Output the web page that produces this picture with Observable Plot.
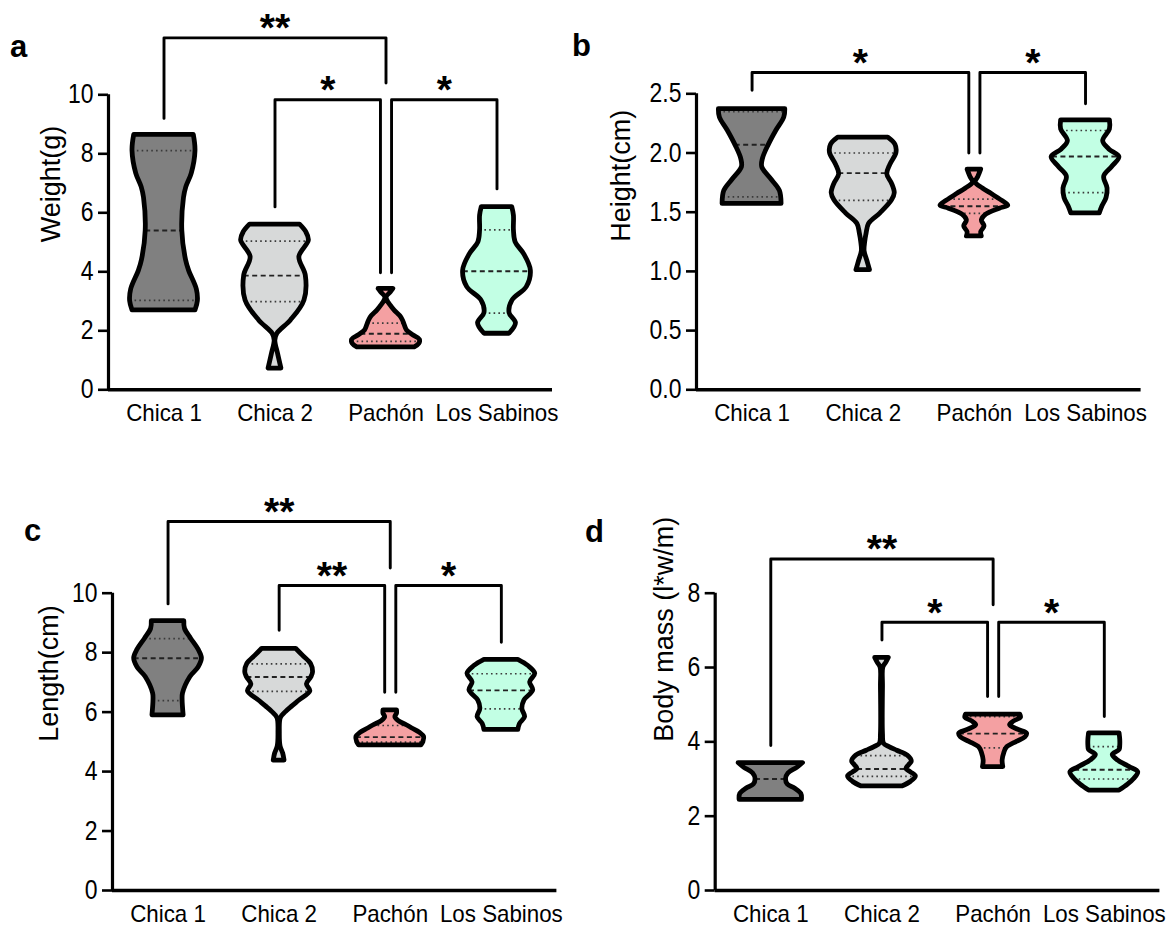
<!DOCTYPE html>
<html><head><meta charset="utf-8">
<script src="https://cdn.jsdelivr.net/npm/d3@7"></script>
<script src="https://cdn.jsdelivr.net/npm/@observablehq/plot@0.6"></script>
<style>
html,body{margin:0;padding:0;background:#fff;}
#fig{position:relative;width:1175px;height:928px;overflow:hidden;background:#fff;}
.panel{position:absolute;}
.letter{position:absolute;font-family:"Liberation Sans",Arial,sans-serif;font-weight:bold;font-size:31px;line-height:1;color:#000;}
</style></head><body><div id="fig"></div>
<script>
// ---------- data ----------
const categories = ["Chica 1", "Chica 2", "Pachón", "Los Sabinos"];
const palette = ["#808080", "#d7d9d9", "#f4a0a2", "#c2ffe4"];

// violin outlines: [value, relative half-width]
const weightShapes = [
  [[2.69,0.93],[3.0,1.0],[3.4,0.97],[4.04,0.74],[4.4,0.65],[5.4,0.54],[6.5,0.59],[6.87,0.66],[7.33,0.82],[8.1,0.93],[8.64,0.88]],
  [[0.72,0.19],[1.22,0.09],[1.67,0.01],[1.9,0.07],[2.35,0.47],[3.03,0.87],[3.87,0.91],[4.5,0.72],[5.06,1.0],[5.35,0.92],[5.6,0.74]],
  [[1.44,0.85],[1.55,0.98],[1.7,1.0],[1.85,0.8],[2.01,0.62],[2.2,0.55],[2.35,0.5],[2.5,0.42],[2.69,0.25],[2.85,0.14],[3.05,0.03],[3.14,0.02],[3.3,0.14],[3.42,0.22]],
  [[1.9,0.37],[2.26,0.56],[2.6,0.37],[3.03,0.46],[3.48,0.88],[4.04,1.0],[4.6,0.8],[5.0,0.55],[5.4,0.5],[5.9,0.5],[6.19,0.45]]
];
const weightQuartiles = [[3.03,5.40,8.11],[2.99,3.87,5.04],[1.64,1.90,2.26],[2.60,4.02,5.42]];
const weightBrackets = [
  {from:0,to:2,top:11.93,legFrom:9.2,legTo:10.4,label:"**"},
  {from:1,to:2,top:9.83,legFrom:6.2,legTo:3.97,label:"*"},
  {from:2,to:3,top:9.83,legFrom:3.97,legTo:6.81,label:"*"}
];

const heightShapes = [
  [[1.57,0.87],[1.68,0.82],[1.77,0.59],[1.88,0.3],[1.95,0.32],[2.06,0.48],[2.19,0.72],[2.30,0.95],[2.37,0.98]],
  [[1.01,0.2],[1.09,0.12],[1.17,0.04],[1.25,0.06],[1.32,0.1],[1.40,0.17],[1.49,0.51],[1.6,0.85],[1.66,0.93],[1.74,0.85],[1.82,0.71],[1.9,0.8],[2.0,0.98],[2.07,0.95],[2.13,0.74]],
  [[1.295,0.22],[1.33,0.2],[1.38,0.3],[1.43,0.22],[1.48,0.35],[1.53,0.75],[1.556,1.0],[1.6,0.8],[1.655,0.5],[1.7,0.25],[1.75,0.04],[1.8,0.12],[1.86,0.2]],
  [[1.49,0.42],[1.55,0.5],[1.62,0.62],[1.7,0.65],[1.8,0.55],[1.88,0.78],[1.965,1.0],[2.03,0.7],[2.1,0.52],[2.2,0.72],[2.275,0.72]]
];
const heightQuartiles = [[1.63,2.07,2.35],[1.60,1.83,2.00],[1.49,1.55,1.61],[1.665,1.97,2.19]];
const heightBrackets = [
  {from:0,to:2,top:2.68,legFrom:2.53,legTo:2.0,label:"*"},
  {from:2,to:3,top:2.68,legFrom:2.0,legTo:2.415,label:"*"}
];

const lengthShapes = [
  [[5.89,0.46],[6.4,0.43],[6.62,0.44],[7.18,0.66],[7.5,0.9],[7.81,1.0],[8.1,0.9],[8.47,0.68],[8.8,0.5],[9.06,0.48]],
  [[4.37,0.16],[4.6,0.12],[4.85,0.04],[5.3,0.02],[5.8,0.05],[6.0,0.2],[6.2,0.4],[6.39,0.6],[6.7,0.92],[6.93,0.82],[7.17,0.95],[7.34,1.0],[7.62,0.94],[7.9,0.7],[8.13,0.5]],
  [[4.88,0.92],[5.0,0.98],[5.16,1.0],[5.3,0.88],[5.45,0.65],[5.55,0.5],[5.7,0.25],[5.83,0.15],[5.95,0.2],[6.06,0.2]],
  [[5.4,0.5],[5.6,0.55],[5.83,0.7],[6.11,0.62],[6.39,0.68],[6.73,0.94],[7.0,0.85],[7.29,1.0],[7.55,0.8],[7.76,0.5]]
];
const lengthQuartiles = [[6.39,7.81,8.47],[6.70,7.18,7.62],[4.99,5.16,5.55],[6.11,6.73,7.29]];
const lengthBrackets = [
  {from:0,to:2,top:12.41,legFrom:9.64,legTo:10.85,label:"**"},
  {from:1,to:2,top:10.26,legFrom:8.75,legTo:6.67,label:"**"},
  {from:2,to:3,top:10.26,legFrom:6.67,legTo:8.35,label:"*"}
];

const massShapes = [
  [[2.44,0.92],[2.6,0.9],[2.74,0.72],[2.85,0.5],[3.0,0.45],[3.15,0.52],[3.3,0.78],[3.43,0.95]],
  [[2.8,0.6],[2.92,0.85],[3.07,1.0],[3.18,0.85],[3.27,0.72],[3.37,0.8],[3.47,0.88],[3.63,0.76],[3.76,0.45],[3.86,0.22],[3.95,0.06],[4.2,0.03],[5.5,0.03],[6.0,0.04],[6.12,0.12],[6.26,0.2]],
  [[3.32,0.3],[3.5,0.28],[3.7,0.33],[3.84,0.4],[4.0,0.7],[4.12,0.95],[4.22,1.0],[4.32,0.75],[4.45,0.5],[4.55,0.62],[4.65,0.82],[4.73,0.8]],
  [[2.69,0.45],[2.85,0.7],[3.0,0.88],[3.18,1.0],[3.32,0.75],[3.5,0.4],[3.65,0.25],[3.78,0.45],[3.9,0.47],[4.05,0.47],[4.23,0.45]]
];
const massQuartiles = [[2.46,3.00,3.41],[3.07,3.27,3.63],[3.84,4.22,4.68],[3.00,3.25,3.87]];
const massBrackets = [
  {from:0,to:2,top:8.92,legFrom:3.9,legTo:7.69,label:"**"},
  {from:1,to:2,top:7.22,legFrom:6.74,legTo:5.22,label:"*"},
  {from:2,to:3,top:7.22,legFrom:5.22,legTo:4.68,label:"*"}
];

const weightTicks = [0,2,4,6,8,10];
const heightTicks = [0,0.5,1.0,1.5,2.0,2.5];
const lengthTicks = [0,2,4,6,8,10];
const massTicks = [0,2,4,6,8];

// ---------- layout ----------
const REGULAR = '"Liberation Sans",Arial,sans-serif';
const HALF = 0.305;   // max half-width of a violin, in band units
const NUDGE = 0.05;
const SQUEEZE_X = 0.93; // horizontal compression of category labels
const SQUEEZE_Y = 0.85; // horizontal compression of value labels

const panels = [
  {letter:"a", left:0,   top:0,   width:587, height:460, mL:108,   mR:35,   mT:94.3,  mB:70.7, title:"Weight(g)",          titleDx:-57, ticks:weightTicks, fmt:d3.format("d"),   shapes:weightShapes, quartiles:weightQuartiles, brackets:weightBrackets, lx:10,  ly:31},
  {letter:"b", left:587, top:0,   width:588, height:460, mL:109,   mR:34.4, mT:93.3,  mB:70.7, title:"Height(cm)",         titleDx:-75, ticks:heightTicks, fmt:d3.format(".1f"), shapes:heightShapes, quartiles:heightQuartiles, brackets:heightBrackets, lx:572, ly:30},
  {letter:"c", left:0,   top:460, width:587, height:468, mL:112,   mR:30.6, mT:132.7, mB:38,   title:"Length(cm)",         titleDx:-63, ticks:lengthTicks, fmt:d3.format("d"),   shapes:lengthShapes, quartiles:lengthQuartiles, brackets:lengthBrackets, lx:24,  ly:515},
  {letter:"d", left:587, top:460, width:588, height:468, mL:127.7, mR:15.6, mT:132.7, mB:38,   title:"Body mass (l*w/m)",  titleDx:-51, ticks:massTicks,   fmt:d3.format("d"),   shapes:massShapes,   quartiles:massQuartiles,   brackets:massBrackets,   lx:585, ly:516}
];

function widthAt(profile, v) {
  if (v <= profile[0][0]) return profile[0][1];
  for (let k = 1; k < profile.length; k++) {
    const [v1, w1] = profile[k];
    const [v0, w0] = profile[k-1];
    if (v <= v1) return w0 + (w1 - w0) * (v - v0) / (v1 - v0);
  }
  return profile[profile.length-1][1];
}

const fig = document.getElementById("fig");

for (const cfg of panels) {
  const yMax = cfg.ticks[cfg.ticks.length-1];
  const marks = [];
  cfg.shapes.forEach((prof, i) => {
    const rows = prof.map(([v, w]) => ({i, v, w}));
    marks.push(Plot.areaX(rows, {y: "v", x1: d => d.i - d.w*HALF, x2: d => d.i + d.w*HALF, fill: palette[i], curve: "catmull-rom"}));
  });
  const qRows = cfg.quartiles.flatMap((qs, i) => qs.map((q, k) => ({i, k, q, w: widthAt(cfg.shapes[i], q)})));
  marks.push(Plot.ruleY(qRows.filter(d => d.k !== 1), {y: "q", x1: d => d.i - d.w*HALF, x2: d => d.i + d.w*HALF, stroke: "#3a3a3a", strokeWidth: 1.7, strokeDasharray: "1.6,3.2"}));
  marks.push(Plot.ruleY(qRows.filter(d => d.k === 1), {y: "q", x1: d => d.i - d.w*HALF, x2: d => d.i + d.w*HALF, stroke: "#222", strokeWidth: 1.9, strokeDasharray: "5,3.5"}));
  cfg.shapes.forEach((prof, i) => {
    const rows = prof.map(([v, w]) => ({i, v, w}));
    marks.push(Plot.areaX(rows, {y: "v", x1: d => d.i - d.w*HALF, x2: d => d.i + d.w*HALF, fill: "none", stroke: "#000", strokeWidth: 4.8, strokeLinejoin: "round", curve: "catmull-rom"}));
  });
  // axes
  marks.push(Plot.ruleX([-0.5], {y1: 0, y2: yMax, stroke: "#000", strokeWidth: 3.2}));
  marks.push(Plot.ruleY([0], {stroke: "#000", strokeWidth: 3.6}));
  marks.push(Plot.axisY({ticks: cfg.ticks, tickFormat: cfg.fmt, tickSize: 10, tickPadding: 5, strokeWidth: 2.6, label: null, fontSize: 27, fill: "#000"}));
  marks.push(Plot.axisX({ticks: [0,1,2,3], tickFormat: i => categories[i], tickSize: 0, tickPadding: 14, label: null, fontSize: 24, fill: "#000"}));
  marks.push(Plot.text([cfg.title], {frameAnchor: "left", rotate: -90, dx: cfg.titleDx, fontSize: 27, fontFamily: REGULAR, fill: "#000"}));
  // significance brackets
  const paths = [], stars = [];
  cfg.brackets.forEach((b, j) => {
    const shared = e => cfg.brackets.some((o, jj) => jj !== j && o.top === b.top && (o.from === e || o.to === e));
    const xa = b.from + (shared(b.from) ? NUDGE : 0);
    const xb = b.to - (shared(b.to) ? NUDGE : 0);
    paths.push({j, x: xa, y: b.legFrom}, {j, x: xa, y: b.top}, {j, x: xb, y: b.top}, {j, x: xb, y: b.legTo});
    stars.push({x: (xa + xb) / 2, y: b.top, label: b.label});
  });
  marks.push(Plot.line(paths, {x: "x", y: "y", z: "j", stroke: "#000", strokeWidth: 2.9}));
  marks.push(Plot.text(stars, {x: "x", y: "y", text: "label", fontSize: 39, fontWeight: "bold", fontFamily: REGULAR, dy: -9, fill: "#000"}));

  const svg = Plot.plot({
    width: cfg.width, height: cfg.height,
    marginLeft: cfg.mL, marginRight: cfg.mR, marginTop: cfg.mT, marginBottom: cfg.mB,
    x: {domain: [-0.5, 3.5]},
    y: {domain: [0, yMax]},
    style: {fontFamily: REGULAR, fontSize: "27px", background: "transparent", color: "#000", overflow: "visible"},
    marks
  });
  const holder = document.createElement("div");
  holder.className = "panel";
  holder.style.left = cfg.left + "px";
  holder.style.top = cfg.top + "px";
  holder.appendChild(svg);
  fig.appendChild(holder);
  // the source figure is horizontally compressed: squeeze tick labels to match
  const squeeze = (sel, f) => svg.querySelectorAll(sel).forEach(t => {
    const len = t.getComputedTextLength();
    if (len > 0) {
      t.setAttribute("textLength", (len * f).toFixed(1));
      t.setAttribute("lengthAdjust", "spacingAndGlyphs");
    }
  });
  squeeze('[aria-label="x-axis tick label"] text', SQUEEZE_X);
  squeeze('[aria-label="y-axis tick label"] text', SQUEEZE_Y);
  const L = document.createElement("div");
  L.className = "letter";
  L.textContent = cfg.letter;
  L.style.left = cfg.lx + "px";
  L.style.top = cfg.ly + "px";
  fig.appendChild(L);
}
</script></body></html>
